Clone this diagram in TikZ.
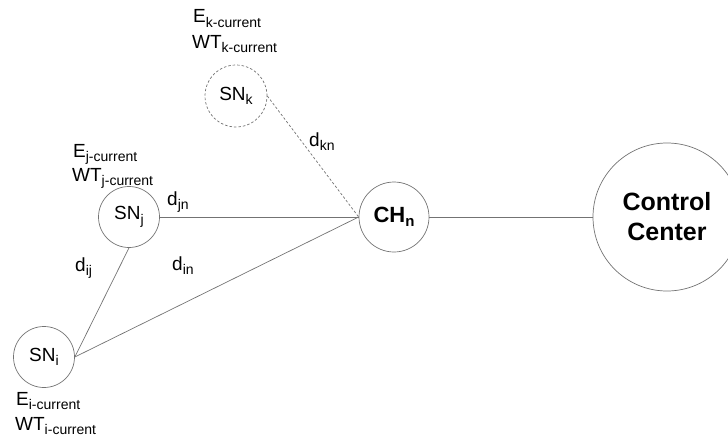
\documentclass[tikz,border=0pt]{standalone}
\usepackage{fontspec}
\setmainfont{Liberation Sans}
\newcommand{\lowsub}[1]{\raisebox{-4.5pt}{\fontsize{14}{14}\selectfont #1}}
\tikzset{
  wire/.style={draw=black!55, line width=0.7pt},
  nodecirc/.style={circle, draw=black!55, line width=0.7pt, inner sep=0pt, font=\fontsize{19}{19}\selectfont},
  dashwire/.style={wire, dash pattern=on 2.5pt off 2pt},
  infotext/.style={anchor=base west, inner sep=0pt, font=\fontsize{19}{19}\selectfont},
  distlabel/.style={anchor=base west, inner sep=0pt, font=\fontsize{19}{19}\selectfont},
}
\begin{document}
\begin{tikzpicture}[x=1pt,y=-1pt]
\useasboundingbox (0,0) rectangle (728,439);
\clip (0,0) rectangle (728,439);

% sensor nodes, cluster head and control center
\node[nodecirc, dashwire, minimum size=62pt] (snk) at (236,96) {SN\lowsub{k}};
\node[nodecirc, minimum size=61pt] (snj) at (129,217) {SN\lowsub{j}};
\node[nodecirc, minimum size=61pt] (sni) at (44,357) {SN\lowsub{i}};
\node[nodecirc, minimum size=70pt, font=\fontsize{22}{22}\selectfont\bfseries] (chn) at (394,217) {CH\raisebox{-4.5pt}{\fontsize{15}{15}\selectfont n}};
\node[nodecirc, minimum size=148pt, align=center, font=\fontsize{25}{30}\selectfont\bfseries] (cc) at (667,217) {Control\\Center};

% links
\draw[dashwire] (snk.east) -- (chn.west);
\draw[wire] (snj.east) -- (chn.west);
\draw[wire] (sni.east) -- (chn.west);
\draw[wire] (sni.east) -- (snj.south);
\draw[wire] (chn.east) -- (cc.west);

% distance labels
\node[distlabel] (lkn) at (309,146) {d\lowsub{kn}};
\node[distlabel] (ljn) at (167,205) {d\lowsub{jn}};
\node[distlabel] (lin) at (172,270) {d\lowsub{in}};
\node[distlabel] (lij) at (75,271) {d\lowsub{ij}};

% residual energy and waiting time of each sensor
\node[infotext] (ek) at (193,23) {E\lowsub{k-current}};
\node[infotext] (wtk) at (192,48) {WT\lowsub{k-current}};
\node[infotext] (ej) at (73,157) {E\lowsub{j-current}};
\node[infotext] (wtj) at (72,181) {WT\lowsub{j-current}};
\node[infotext] (ei) at (16,405) {E\lowsub{i-current}};
\node[infotext] (wti) at (15,430) {WT\lowsub{i-current}};
\end{tikzpicture}
\end{document}
